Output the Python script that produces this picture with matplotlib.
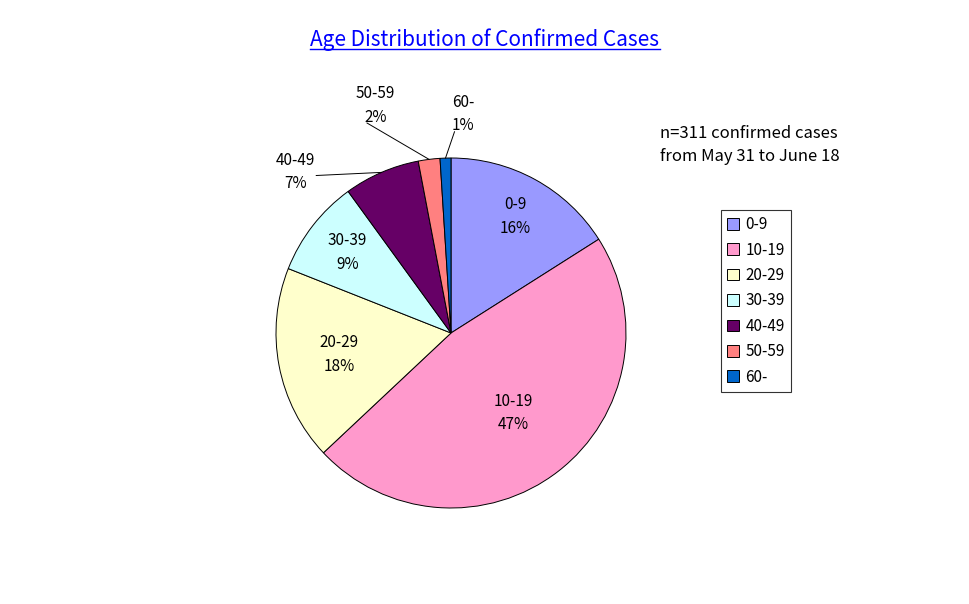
import numpy as np
import matplotlib.pyplot as plt
from matplotlib.lines import Line2D

plt.rcParams['font.family'] = ['Noto Sans CJK JP', 'DejaVu Sans']

groups = ['0-9', '10-19', '20-29', '30-39', '40-49', '50-59', '60-']
shares = [16, 47, 18, 9, 7, 2, 1]
colors = ['#9999FF', '#FF99CC', '#FFFFCC', '#CCFFFF', '#660066', '#FF8080', '#0066CC']

W, H = 970, 604
fig = plt.figure(figsize=(W / 100, H / 100), dpi=100)
cx, cy, r = 451, 333, 175
ax = fig.add_axes([(cx - r) / W, (H - cy - r) / H, 2 * r / W, 2 * r / H])
wedges, _ = ax.pie(shares, colors=colors, startangle=90, counterclock=False,
                   wedgeprops=dict(edgecolor='black', linewidth=0.7))
ax.set_xlim(-1, 1)
ax.set_ylim(-1, 1)
ax.set_aspect('auto')

inside_r = [0.76, 0.58, 0.65, 0.75]
outside_txt = {4: (-0.89, 0.92), 5: (-0.43, 1.30), 6: (0.07, 1.25)}
for i, w in enumerate(wedges):
    mid = np.deg2rad((w.theta1 + w.theta2) / 2)
    label = f'{groups[i]}\n{shares[i]}%'
    if i < 4:
        ax.text(inside_r[i] * np.cos(mid), inside_r[i] * np.sin(mid), label,
                ha='center', va='center', fontsize=11, linespacing=1.5)
    else:
        tx, ty = outside_txt[i]
        ax.text(tx, ty, label, ha='center', va='center', fontsize=11, linespacing=1.5)
        ax.plot([np.cos(mid), tx + (0.12 if i == 4 else 0.1 * np.sign(np.cos(mid)) + 0.05)],
                [np.sin(mid), ty - (0.02 if i == 4 else 0.1)],
                color='black', lw=0.7, clip_on=False)

t = fig.text(485 / W, 1 - 40 / H, 'Age Distribution of Confirmed Cases',
             ha='center', va='center', fontsize=15, color='#0000FF')
fig.canvas.draw()
bb = t.get_window_extent().transformed(fig.transFigure.inverted())
fig.add_artist(Line2D([bb.x0, bb.x1], [bb.y0 + 0.004, bb.y0 + 0.004],
                      color='#0000FF', lw=1, transform=fig.transFigure))

fig.text(660 / W, 1 - 145 / H, 'n=311 confirmed cases\nfrom May 31 to June 18',
         ha='left', va='center', fontsize=12, linespacing=1.4)

leg = fig.legend(wedges, groups, loc='upper left', bbox_to_anchor=(721 / W, 1 - 210 / H),
                 fontsize=11, frameon=True, fancybox=False, edgecolor='black',
                 handlelength=0.8, handleheight=0.8, labelspacing=0.55,
                 borderpad=0.4, handletextpad=0.4, borderaxespad=0)
leg.get_frame().set_linewidth(0.8)

fig.savefig('out.png', dpi=100)
